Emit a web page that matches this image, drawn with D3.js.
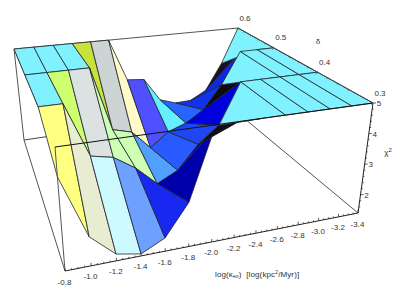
<!DOCTYPE html>
<html><head><meta charset="utf-8">
<script src="https://cdn.jsdelivr.net/npm/d3@7"></script>
<style>html,body{margin:0;padding:0;background:#fff}svg{display:block}text{font-family:"Liberation Sans",Arial,sans-serif;font-size:8px;fill:#333;white-space:pre}</style>
</head><body><script>
// ---- data ----
const kappaValues=[-0.8,-1.0,-1.2,-1.4,-1.6,-1.8,-2.0,-2.2,-2.4,-2.6,-2.8,-3.0,-3.2,-3.4];
const deltaValues=[0.6,0.5,0.4,0.3];
const chi2AtDelta06=[5,5,5,5,5,5,3.27,3.2,2.25,2.03,2.05,2.4,3.5,5];
const chi2AtDelta05=[5,5,5,5,2.6,2.4,1.7,2.2,2.44,2.87,3.76,5,5,5];
const chi2AtDelta04=[5,5,3.16,3.0,2.52,1.87,2.21,3.0,3.56,5,5,5,5,5];
const chi2AtDelta03=[4.13,2.25,1.6,1.46,1.8,2.75,4.85,5,5,5,5,5,5,5];
const chi2Rows=[chi2AtDelta06,chi2AtDelta05,chi2AtDelta04,chi2AtDelta03];
const colorsStrip1=["#80f2ff","#80f2ff","#80f2ff","#c8e13c","#cdd4d4","#fffac8","#5050ff","#64f0ff","#2864ff","#1432eb","#0f28e1","#1a0f1e","#80f2ff"];
const colorsStrip2=["#80f2ff","#cdff6e","#dce1e1","#cdffb4","#cdffb4","#50a0ff","#285aff","#1e46f5","#0000dc","#0c0a14","#80f2ff","#80f2ff","#80f2ff"];
const colorsStrip3=["#ffff82","#e8ecd0","#cdfaff","#6ea0ff","#1928f0","#0000aa","#0000be","#140a14","#80f2ff","#80f2ff","#80f2ff","#80f2ff","#80f2ff"];
const stripColors=[colorsStrip1,colorsStrip2,colorsStrip3];
const kappaTicks=[-0.8,-1.0,-1.2,-1.4,-1.6,-1.8,-2.0,-2.2,-2.4,-2.6,-2.8,-3.0,-3.2,-3.4];
const deltaTicks=[0.6,0.5,0.4,0.3];
const chi2Ticks=[5,4,3,2];

// ---- scales and projection ----
const W=399,H=289;
const sx=d3.scaleLinear().domain([-0.8,-3.4]).range([0,1]);
const sy=d3.scaleLinear().domain([0.3,0.6]).range([0,1]);
const sz=d3.scaleLinear().domain([1.4,5]).range([0,1]);
const persp=a=>t=>t*a/(t*a+1-t);
const px=persp(1.17),py=persp(1.39);
// box corner screen positions keyed [u][v][w]
const box=[[[[65,271],[55,147]],[[24,140],[14,49]]],[[[358,213],[373,103]],[[233,109],[238,28]]]];
function project(k,d,z){
  const u=px(sx(k)),v=py(sy(d)),w=sz(z);let X=0,Y=0;
  for(const a of[0,1])for(const b of[0,1])for(const c of[0,1]){
    const f=(a?u:1-u)*(b?v:1-v)*(c?w:1-w);
    X+=f*box[a][b][c][0];Y+=f*box[a][b][c][1];}
  return[X,Y];
}
const svg=d3.select("body").append("svg").attr("width",W).attr("height",H).attr("viewBox",[0,0,W,H]);
const line=d3.line();
function edge(a,b,col,sw){svg.append("path").attr("d",line([project(...a),project(...b)])).attr("fill","none").attr("stroke",col).attr("stroke-width",sw);}
// back edges
const K0=-0.8,K1=-3.4,D0=0.3,D1=0.6,Z0=1.4,Z1=5;
edge([K0,D1,Z1],[K1,D1,Z1],"#555",1);
edge([K0,D1,Z1],[K0,D1,Z0],"#555",1);
edge([K0,D1,Z0],[K0,D0,Z0],"#555",1);
edge([K0,D1,Z0],[K1,D1,Z0],"#444",1);
edge([K1,D1,Z0],[K1,D0,Z0],"#555",1);
edge([K0,D1,Z1],[K0,D0,Z1],"#555",1);
// surface cells, back to front
const cells=[];
deltaValues.slice(0,-1).forEach((d,r)=>{
  kappaValues.slice(0,-1).forEach((k,c)=>{
    cells.push({pts:[
      project(k,d,chi2Rows[r][c]),
      project(kappaValues[c+1],d,chi2Rows[r][c+1]),
      project(kappaValues[c+1],deltaValues[r+1],chi2Rows[r+1][c+1]),
      project(k,deltaValues[r+1],chi2Rows[r+1][c])],
      color:stripColors[r][c]});
  });
});
svg.append("g").selectAll("path").data(cells).join("path")
  .attr("d",d=>line(d.pts)+"Z").attr("fill",d=>d.color)
  .attr("stroke","#20242c").attr("stroke-width",0.8).attr("stroke-linejoin","round");
// front edges
edge([K0,D0,Z0],[K0,D0,Z1],"#555",1);
edge([K0,D0,Z1],[K1,D0,Z1],"#111",1);
edge([K0,D0,Z0],[K1,D0,Z0],"#222",1);
edge([K1,D0,Z0],[K1,D0,Z1],"#222",1);
edge([K1,D1,Z1],[K1,D0,Z1],"#444",1);
// ticks
const tick=(p,dx,dy,col)=>svg.append("path").attr("d",line([p,[p[0]+dx,p[1]+dy]])).attr("stroke",col||"#333").attr("stroke-width",0.8).attr("fill","none");
d3.range(-0.8,-3.41,-0.05).forEach(k=>{const maj=Math.abs(k*5-Math.round(k*5))<1e-6;tick(project(k,D0,Z0),0,maj?-3:-1.5);});
d3.range(1.6,5.01,0.2).forEach(z=>{const maj=Math.abs(z-Math.round(z))<1e-6;tick(project(K1,D0,z),maj?3:1.5,0);});
d3.range(0.3,0.601,0.02).forEach(d=>{const maj=Math.abs(d*10-Math.round(d*10))<1e-6;tick(project(K1,d,Z1),maj?-1.5:-1,maj?2:1,"#555");});
// tick labels
svg.append("g").selectAll("text").data(kappaTicks).join("text")
  .attr("x",d=>project(d,D0,Z0)[0]-0.5).attr("y",d=>project(d,D0,Z0)[1]+13.5).attr("text-anchor","middle").text(d=>d.toFixed(1));
svg.append("g").selectAll("text").data(deltaTicks).join("text")
  .attr("x",d=>project(K1,d,Z1)[0]+7).attr("y",d=>project(K1,d,Z1)[1]-7.5).attr("text-anchor","middle").text(d=>d.toFixed(1));
svg.append("g").selectAll("text").data(chi2Ticks).join("text")
  .attr("x",d=>project(K1,D0,d)[0]+6).attr("y",d=>project(K1,D0,d)[1]+3).attr("text-anchor","middle").text(d=>d);
// axis titles
svg.append("text").attr("x",318).attr("y",44).attr("text-anchor","middle").text("δ");
const chi=svg.append("text").attr("x",388).attr("y",155).attr("text-anchor","middle");
chi.append("tspan").text("χ");chi.append("tspan").attr("dy",-3).style("font-size","6px").text("2");
const xt=svg.append("text").attr("x",215).attr("y",277).style("letter-spacing","0.12px");
xt.append("tspan").text("log(κ");xt.append("tspan").attr("dy",1).style("font-size","5px").text("eo");
xt.append("tspan").attr("dy",-1).text(")  [log(kpc");xt.append("tspan").attr("dy",-3).style("font-size","5px").text("2");
xt.append("tspan").attr("dy",3).text("/Myr)]");
</script></body></html>
